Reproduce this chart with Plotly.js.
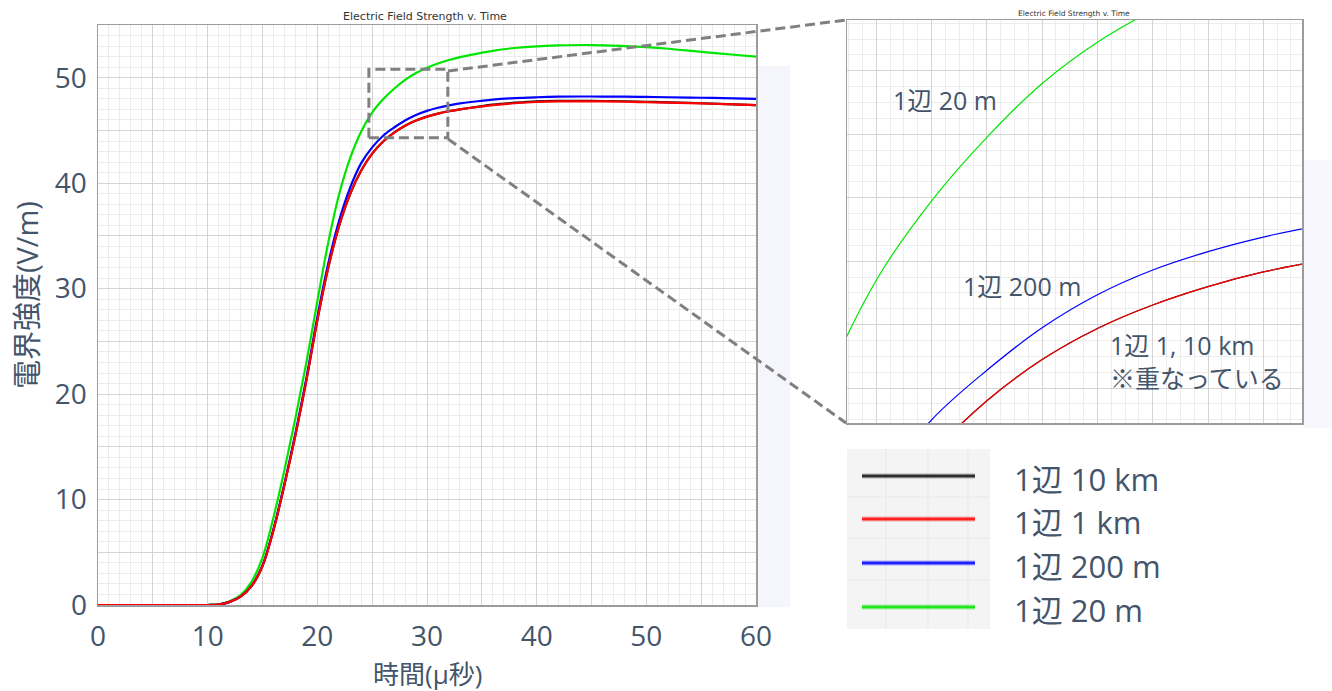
<!DOCTYPE html>
<html>
<head>
<meta charset="utf-8">
<script src="https://cdn.plot.ly/plotly-3.0.1.min.js"></script>
<style>
html,body{margin:0;padding:0;background:#ffffff;}
#chart{width:1332px;height:691px;}
</style>
</head>
<body>
<div id="chart"></div>
<script>
// ---- data ----
const time = [0, 5, 10, 11, 12, 13, 14, 15, 16, 17, 18, 19, 20, 21, 22, 23, 24, 25, 26, 27, 28, 29, 30, 31, 32, 33, 34, 36, 38, 40, 42, 45, 48, 50, 52, 55, 58, 60];
const side10km = [0, 0, 0, 0.05, 0.3, 0.8, 1.8, 3.7, 7.1, 11.4, 16.1, 21.3, 27.0, 32.0, 36.0, 39.0, 41.2, 42.8, 43.95, 44.8, 45.45, 45.94, 46.31, 46.6, 46.83, 47.0, 47.15, 47.45, 47.63, 47.76, 47.8, 47.8, 47.77, 47.72, 47.67, 47.58, 47.48, 47.4];
const side1km  = [0, 0, 0, 0.05, 0.3, 0.8, 1.8, 3.7, 7.1, 11.4, 16.1, 21.3, 27.0, 32.0, 36.0, 39.0, 41.2, 42.8, 43.95, 44.8, 45.45, 45.94, 46.31, 46.6, 46.83, 47.0, 47.15, 47.4, 47.58, 47.7, 47.75, 47.76, 47.72, 47.68, 47.64, 47.56, 47.47, 47.4];
const side200m = [0, 0, 0, 0.05, 0.3, 0.8, 1.8, 3.75, 7.2, 11.5, 16.3, 21.5, 27.3, 32.4, 36.5, 39.6, 41.9, 43.4, 44.5, 45.28, 45.95, 46.47, 46.86, 47.15, 47.38, 47.56, 47.7, 47.93, 48.07, 48.15, 48.2, 48.22, 48.2, 48.18, 48.15, 48.1, 48.04, 48.0];
const side20m  = [0, 0, 0, 0.06, 0.35, 0.95, 2.2, 4.5, 8.3, 12.8, 17.7, 23.0, 28.8, 34.4, 39.0, 42.4, 44.9, 46.7, 47.95, 48.95, 49.8, 50.45, 50.95, 51.35, 51.68, 51.95, 52.17, 52.55, 52.82, 52.98, 53.06, 53.1, 53.0, 52.9, 52.75, 52.45, 52.18, 52.0];

const seriesNames  = ['1辺 10 km', '1辺 1 km', '1辺 200 m', '1辺 20 m'];
const seriesValues = [side10km, side1km, side200m, side20m];
const seriesColors = ['#111111', '#ff0000', '#0000ff', '#00e600'];
const drawOrder = [0, 3, 2, 1];

const xTickVals = [0, 5, 10, 15, 20, 25, 30, 35, 40, 45, 50, 55, 60];
const xTickText = ['0', '', '10', '', '20', '', '30', '', '40', '', '50', '', '60'];
const yTickVals = [0, 5, 10, 15, 20, 25, 30, 35, 40, 45, 50, 55];
const yTickText = ['0', '', '10', '', '20', '', '30', '', '40', '', '50', ''];

const chartTitle = 'Electric Field Strength v. Time';
const xTitle = '時間(μ秒)';
const yTitle = '電界強度(V/m)';
const insetNotes = ['1辺 20 m', '1辺 200 m', '1辺 1, 10 km', '※重なっている'];

// ---- layout helpers ----
const W = 1332, H = 691;
const fx = p => p / W;
const fy = p => 1 - p / H;
const FONT = 'Open Sans, Noto Sans CJK JP, sans-serif';
const TXT = '#44546a';
const GRID = '#d4d4d4', MINOR = '#ececec', FRAME = '#9c9c9c';

const minorVals = (a, b, s) => { const r = []; for (let v = a; v <= b + 1e-9; v += s) r.push(+v.toFixed(4)); return r; };

const traces = [];
drawOrder.forEach(i => {
  traces.push({x: time, y: seriesValues[i], name: seriesNames[i], type: 'scatter', mode: 'lines',
    line: {color: seriesColors[i], width: 2.2, shape: 'spline', smoothing: 1},
    xaxis: 'x', yaxis: 'y', showlegend: false, hoverinfo: 'skip'});
});
drawOrder.forEach(i => {
  traces.push({x: time, y: seriesValues[i], name: seriesNames[i], type: 'scatter', mode: 'lines',
    line: {color: seriesColors[i], width: 1.2, shape: 'spline', smoothing: 1},
    xaxis: 'x2', yaxis: 'y2', showlegend: false, hoverinfo: 'skip'});
});

const insetX = [24.47, 32.7], insetY = [44.45, 50.8];
const boxX = [24.7, 31.9], boxY = [44.3, 50.8];

const shapes = [
  {type: 'rect', xref: 'paper', yref: 'paper', x0: fx(757), x1: fx(790), y0: fy(607), y1: fy(66), fillcolor: '#f5f5fc', line: {width: 0}, layer: 'below'},
  {type: 'rect', xref: 'paper', yref: 'paper', x0: fx(1303), x1: fx(1332), y0: fy(428), y1: fy(160), fillcolor: '#f7f7fd', line: {width: 0}, layer: 'below'},
  {type: 'rect', xref: 'paper', yref: 'paper', x0: fx(847), x1: fx(990), y0: fy(629), y1: fy(449), fillcolor: '#f4f4f4', line: {width: 0}, layer: 'below'}
];
[886, 928, 968].forEach(v => shapes.push({type: 'line', xref: 'paper', yref: 'paper', x0: fx(v), x1: fx(v), y0: fy(629), y1: fy(449), line: {color: '#e9e9e9', width: 1}, layer: 'below'}));
[497, 538, 580].forEach(v => shapes.push({type: 'line', xref: 'paper', yref: 'paper', x0: fx(847), x1: fx(990), y0: fy(v), y1: fy(v), line: {color: '#e9e9e9', width: 1}, layer: 'below'}));
const dashStyle = {color: '#808080', width: 3, dash: '10px,5px'};
shapes.push({type: 'rect', xref: 'x', yref: 'y', x0: boxX[0], x1: boxX[1], y0: boxY[0], y1: boxY[1], line: dashStyle, fillcolor: 'rgba(0,0,0,0)', layer: 'above'});
shapes.push({type: 'line', xref: 'paper', yref: 'paper', x0: fx(448), y0: fy(71), x1: fx(846), y1: fy(20), line: dashStyle, layer: 'above'});
shapes.push({type: 'line', xref: 'paper', yref: 'paper', x0: fx(448), y0: fy(139), x1: fx(846), y1: fy(423), line: dashStyle, layer: 'above'});

const legendY = [476, 519, 563, 607];
const annotations = [];
seriesNames.forEach((n, i) => {
  shapes.push({type: 'line', xref: 'paper', yref: 'paper', x0: fx(862), x1: fx(975), y0: fy(legendY[i]), y1: fy(legendY[i]), line: {color: seriesColors[i], width: 6}, opacity: 0.15, layer: 'above'});
  shapes.push({type: 'line', xref: 'paper', yref: 'paper', x0: fx(862), x1: fx(975), y0: fy(legendY[i]), y1: fy(legendY[i]), line: {color: seriesColors[i], width: 3.2}, opacity: 0.85, layer: 'above'});
  annotations.push({xref: 'paper', yref: 'paper', x: fx(1012), y: fy(legendY[i] + 3), xanchor: 'left', yanchor: 'middle', text: n, showarrow: false, font: {family: FONT, size: 31, color: TXT}});
});
const notePos = [[891, 100], [961, 286], [1108, 345], [1108, 378]];
insetNotes.forEach((t, i) => annotations.push({xref: 'paper', yref: 'paper', x: fx(notePos[i][0]), y: fy(notePos[i][1]), xanchor: 'left', yanchor: 'middle', text: t, showarrow: false, font: {family: FONT, size: 25, color: TXT}}));
annotations.push({xref: 'paper', yref: 'paper', x: fx(1074), y: fy(14), xanchor: 'center', yanchor: 'middle', text: chartTitle, showarrow: false, font: {family: 'DejaVu Sans, sans-serif', size: 7.5, color: '#333'}});
// axis titles
annotations.push({xref: 'paper', yref: 'paper', x: fx(427), y: fy(674), xanchor: 'center', yanchor: 'middle', text: xTitle, showarrow: false, font: {family: FONT, size: 26, color: TXT}});
annotations.push({xref: 'paper', yref: 'paper', x: fx(26), y: fy(295), xanchor: 'center', yanchor: 'middle', textangle: -90, text: yTitle, showarrow: false, font: {family: FONT, size: 29, color: TXT}});

const layout = {
  width: W, height: H,
  margin: {l: 0, r: 0, t: 0, b: 0},
  paper_bgcolor: '#ffffff', plot_bgcolor: '#ffffff',
  showlegend: false,
  font: {family: FONT, color: TXT},
  title: {text: chartTitle, x: fx(425), xanchor: 'center', y: fy(16), yanchor: 'middle', font: {family: 'DejaVu Sans, sans-serif', size: 11, color: '#333'}},
  xaxis: {domain: [fx(98), fx(756)], range: [0, 60], anchor: 'y', tickmode: 'array', tickvals: xTickVals, ticktext: xTickText,
    showgrid: true, gridcolor: GRID, gridwidth: 1, zeroline: false, showline: true, mirror: true, linecolor: FRAME, linewidth: 1.5,
    ticks: '', ticklabelstandoff: 6, tickfont: {family: FONT, size: 28, color: TXT},
    minor: {tickmode: 'array', tickvals: minorVals(0, 60, 1), showgrid: true, gridcolor: MINOR, gridwidth: 1},
    automargin: false, fixedrange: true},
  yaxis: {domain: [fy(605), fy(25)], range: [0, 55], anchor: 'x', tickmode: 'array', tickvals: yTickVals, ticktext: yTickText,
    showgrid: true, gridcolor: GRID, gridwidth: 1, zeroline: false, showline: true, mirror: true, linecolor: FRAME, linewidth: 1.5,
    ticks: '', ticklabelstandoff: 4, tickfont: {family: FONT, size: 28, color: TXT},
    minor: {tickmode: 'array', tickvals: minorVals(0, 55, 1), showgrid: true, gridcolor: MINOR, gridwidth: 1},
    automargin: false, fixedrange: true},
  xaxis2: {domain: [fx(847), fx(1302)], range: insetX, anchor: 'y2', tick0: 0, dtick: 1, showticklabels: false, ticks: '',
    showgrid: true, gridcolor: GRID, zeroline: false, showline: true, mirror: true, linecolor: FRAME, linewidth: 1.5,
    minor: {dtick: 0.25, showgrid: true, gridcolor: MINOR}, fixedrange: true},
  yaxis2: {domain: [fy(423), fy(20)], range: insetY, anchor: 'x2', tick0: 0, dtick: 1, showticklabels: false, ticks: '',
    showgrid: true, gridcolor: GRID, zeroline: false, showline: true, mirror: true, linecolor: FRAME, linewidth: 1.5,
    minor: {dtick: 0.25, showgrid: true, gridcolor: MINOR}, fixedrange: true},
  shapes: shapes,
  annotations: annotations
};

Plotly.newPlot('chart', traces, layout, {displayModeBar: false, staticPlot: true});
</script>
</body>
</html>
